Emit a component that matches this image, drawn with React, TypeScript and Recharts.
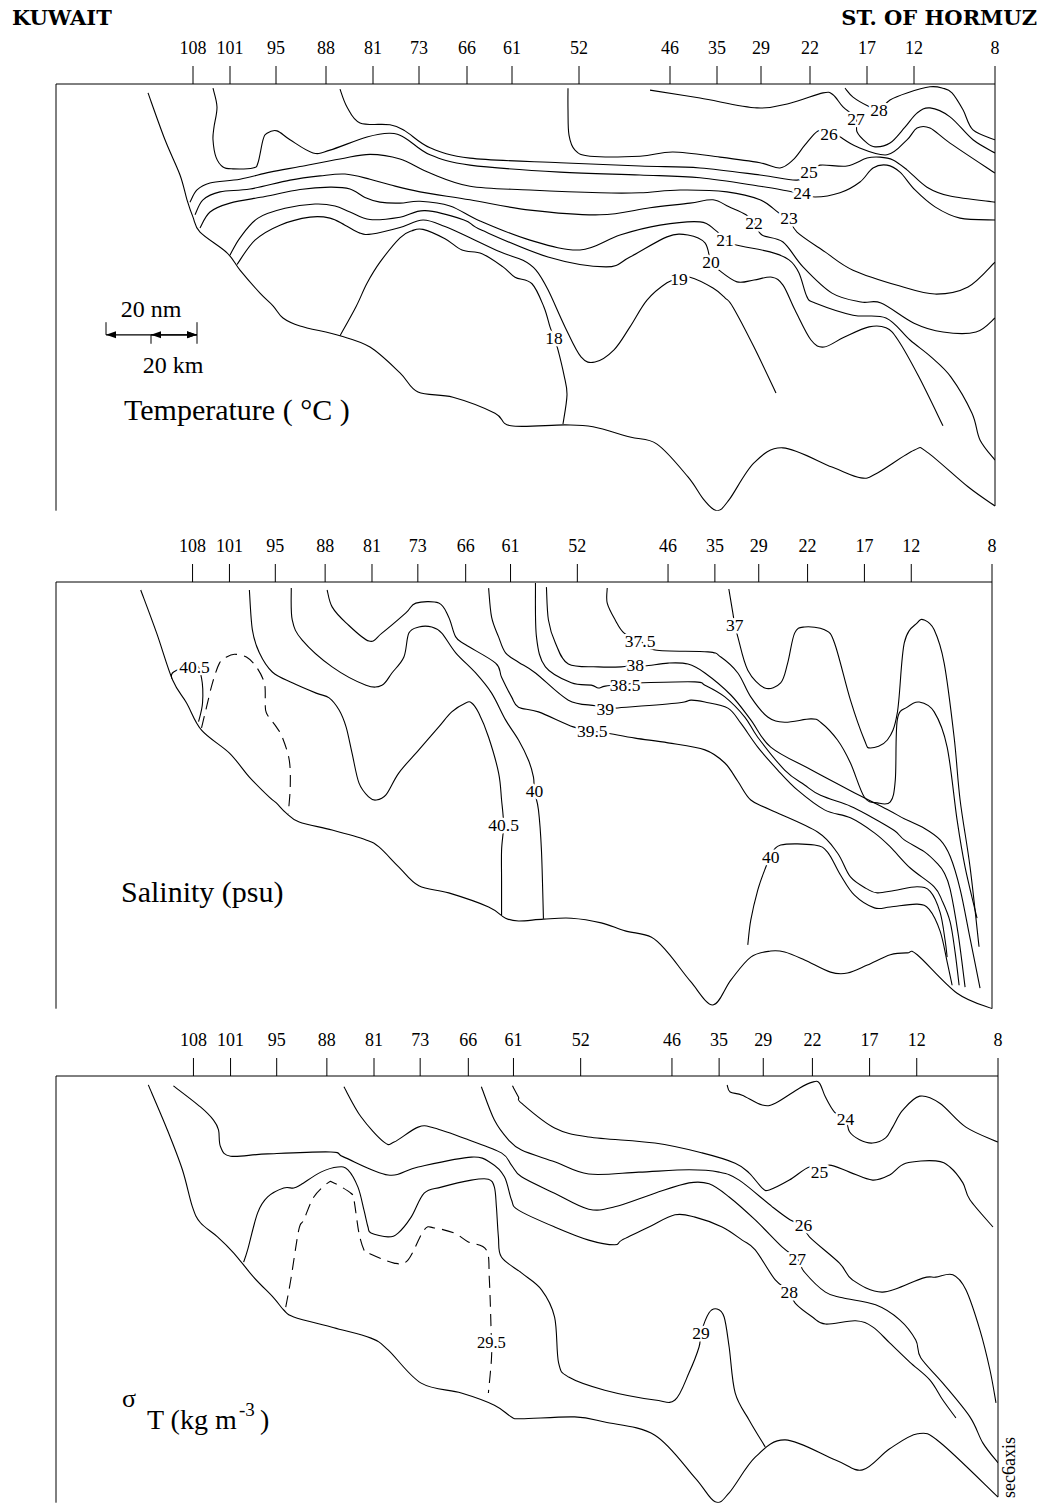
import { LineChart, Line, XAxis, YAxis, ReferenceLine, ReferenceDot } from 'recharts';

const INK = '#000';
const SERIF = '"Liberation Serif", "Times New Roman", serif';

// station numbers along the section and their distance from the Kuwait end (km)
const STATION_ID = ['108', '101', '95', '88', '81', '73', '66', '61', '52', '46', '35', '29', '22', '17', '12', '8'];
const STATION_KM = [137, 174, 220, 270, 317, 363, 411, 456, 523, 614, 661, 705, 754, 811, 858, 939];
const DEPTH_TICKS = [0, 10, 20, 30, 40, 50, 60, 70, 80, 90];

type Pt = [number, number]; // [distance km, depth m]
type Tag = [number, number, string];

// ---------- temperature section ----------
const TEMP_SEABED: Pt[] = [[92, 1.9], [109, 11.9], [124, 19.4], [131, 24.7], [137, 28.4], [144, 31.6], [171, 36.0], [184, 39.7], [204, 44.6], [217, 47.3], [227, 49.9], [244, 51.6], [284, 53.7], [314, 56.1], [344, 61.6], [362, 65.7], [397, 66.8], [439, 70.2], [455, 72.9], [509, 72.7], [537, 73.1], [574, 75.3], [601, 76.8], [632, 83.8], [648, 88.7], [661, 91], [673, 88.7], [698, 80.8], [727, 77.6], [776, 81.7], [805, 84.0], [821, 83.0], [858, 78.1], [871, 78.5], [912, 85.9], [939, 90.0]];
const TEMP_28: Pt[] = [[789, 0.9], [797, 2.8], [812, 4.7], [823, 5.5], [834, 3.4], [851, 1.9], [874, 0.6], [887, 0.9], [896, 1.9], [907, 5.5], [917, 9.8], [939, 11.9]];
const TEMP_27: Pt[] = [[594, 1.3], [644, 3.0], [701, 5.1], [734, 4.1], [767, 1.9], [777, 2.3], [787, 4.9], [800, 7.3], [801, 10.2], [810, 12.4], [819, 13.4], [834, 12.6], [849, 9.2], [861, 6.2], [874, 5.1], [894, 7.0], [917, 11.9], [939, 14.7]];
const TEMP_26: Pt[] = [[512, 0.9], [512, 5.5], [513, 10.9], [519, 14.1], [534, 15.4], [584, 15.4], [617, 14.5], [664, 15.6], [704, 16.8], [724, 17.9], [737, 16.2], [749, 13.0], [762, 10.0], [773, 10.5], [781, 10.9], [801, 13.4], [831, 15.1], [851, 11.9], [861, 9.4], [874, 9.4], [894, 12.6], [939, 19.0]];
const TEMP_25: Pt[] = [[284, 1.1], [291, 4.9], [304, 8.3], [334, 8.7], [349, 10.0], [374, 13.6], [414, 15.8], [504, 16.8], [584, 17.5], [644, 17.9], [704, 19.4], [741, 20.5], [753, 18.8], [764, 17.3], [791, 17.5], [811, 15.8], [824, 15.6], [837, 16.2], [851, 18.3], [871, 22.0], [894, 23.9], [939, 25.2]];
const TEMP_24: Pt[] = [[157, 0.9], [161, 4.9], [158, 9.2], [157, 11.9], [160, 15.6], [167, 17.7], [177, 18.1], [197, 17.9], [202, 16.8], [207, 11.9], [211, 10.5], [221, 10.0], [234, 11.9], [257, 14.7], [274, 14.1], [311, 11.3], [334, 10.5], [349, 11.5], [374, 15.1], [414, 17.3], [504, 18.8], [584, 19.4], [644, 20.0], [704, 21.8], [737, 23.0], [746, 23.2], [759, 24.1], [784, 23.2], [804, 20.9], [817, 17.9], [831, 17.3], [844, 18.8], [859, 22.6], [879, 26.2], [904, 28.6], [939, 29.0]];
const TEMP_23: Pt[] = [[134, 25.2], [141, 22.6], [154, 21.1], [184, 20.3], [214, 18.8], [244, 17.6], [284, 16.0], [314, 15.0], [344, 16.0], [374, 19.0], [414, 21.8], [474, 22.6], [544, 23.2], [584, 23.2], [624, 22.6], [671, 23.0], [704, 24.7], [723, 27.5], [733, 28.6], [741, 31.6], [769, 35.8], [797, 39.7], [844, 43.1], [879, 44.8], [912, 43.3], [939, 38.0]];
const TEMP_22: Pt[] = [[139, 27.9], [147, 24.7], [164, 23.0], [194, 22.4], [234, 20.5], [264, 19.6], [289, 19.2], [314, 20.3], [334, 21.5], [364, 23.0], [414, 24.7], [474, 26.9], [544, 27.9], [594, 26.4], [634, 25.4], [657, 24.7], [673, 26.2], [690, 27.9], [698, 29.6], [706, 32.2], [727, 33.7], [747, 39.0], [776, 44.6], [805, 46.5], [825, 46.7], [858, 51.0], [887, 52.9], [920, 52.9], [939, 49.9]];
const TEMP_21: Pt[] = [[144, 30.7], [154, 27.3], [174, 25.4], [209, 24.0], [244, 22.5], [274, 22.0], [294, 22.4], [309, 24.2], [324, 25.2], [344, 25.4], [364, 25.0], [394, 26.0], [424, 29.2], [474, 33.3], [524, 35.4], [564, 32.2], [604, 30.1], [644, 29.4], [659, 31.1], [669, 33.1], [679, 34.3], [714, 35.8], [733, 37.5], [743, 40.3], [751, 45.4], [759, 46.7], [797, 49.3], [830, 49.9], [854, 54.6], [875, 58.2], [895, 62.5], [916, 70.2], [924, 75.9], [939, 80.2]];
const TEMP_20: Pt[] = [[174, 36.5], [184, 32.8], [202, 28.6], [229, 26.5], [259, 25.6], [279, 26.0], [294, 27.3], [314, 28.9], [344, 28.4], [369, 27.0], [408, 29.0], [426, 31.2], [492, 36.9], [550, 39.0], [574, 36.9], [611, 32.6], [632, 32.2], [649, 33.9], [655, 38.0], [663, 39.7], [681, 42.2], [698, 41.8], [716, 41.2], [727, 42.9], [739, 48.2], [755, 54.6], [768, 56.1], [788, 54.0], [813, 51.8], [830, 52.0], [842, 54.6], [863, 62.5], [887, 72.9]];
const TEMP_19: Pt[] = [[181, 38.5], [199, 33.3], [224, 30.1], [254, 28.4], [274, 28.6], [289, 30.1], [304, 31.8], [316, 32.0], [344, 30.6], [367, 29.0], [389, 30.4], [414, 32.8], [444, 35.8], [467, 37.6], [480, 39.7], [492, 43.9], [509, 51.8], [525, 58.2], [539, 59.3], [558, 56.7], [574, 51.8], [591, 46.1], [611, 42.4], [623, 41.6], [634, 41.2], [657, 43.5], [669, 45.6], [677, 47.6], [698, 56.1], [720, 65.9]];
const TEMP_18: Pt[] = [[284, 53.7], [300, 47.5], [311, 42.5], [324, 38.0], [344, 32.8], [356, 31.3], [367, 31.0], [389, 33.0], [406, 35.4], [426, 36.2], [447, 39.0], [459, 41.2], [476, 42.6], [488, 47.6], [494, 51.8], [498, 54.0], [502, 56.7], [508, 62.1], [511, 66.3], [507, 72.5]];
const TEMP_TAGS: Tag[] = [[823, 5.5, '28'], [800, 7.3, '27'], [773, 10.5, '26'], [753, 18.8, '25'], [746, 23.2, '24'], [733, 28.6, '23'], [698, 29.6, '22'], [669, 33.1, '21'], [655, 38.0, '20'], [623, 41.6, '19'], [498, 54.0, '18']];

// ---------- salinity section ----------
const SAL_SEABED: Pt[] = [[85, 1.7], [101, 10.9], [117, 20.9], [131, 25.8], [146, 31.6], [174, 36.5], [194, 41.6], [214, 45.9], [221, 47.1], [231, 49.3], [244, 51.2], [277, 52.9], [311, 55.0], [324, 56.5], [344, 60.8], [364, 64.8], [394, 66.3], [434, 69.3], [451, 71.7], [464, 72.3], [489, 71.9], [517, 71.7], [547, 72.7], [571, 74.4], [597, 75.7], [614, 79.1], [637, 85.3], [659, 90.2], [677, 84.9], [697, 80.0], [717, 78.7], [731, 78.9], [751, 80.6], [777, 83.2], [794, 83.4], [814, 81.7], [837, 79.5], [854, 79.1], [864, 79.5], [904, 87.7], [939, 91]];
const SAL_405_LENS: Pt[] = [[146, 31.1], [151, 26.7], [157, 21.5], [164, 17.3], [171, 16.0], [179, 15.4], [191, 16.0], [201, 18.1], [209, 21.5], [210, 25.2], [211, 27.9], [221, 30.9], [227, 33.1], [234, 38.0], [235, 43.7], [233, 49.3]];
const SAL_405_SHELF: Pt[] = [[116, 20.6], [118, 19.2], [139, 17.5], [146, 20.5], [147, 25.8], [143, 29.8]];
const SAL_405: Pt[] = [[194, 1.7], [197, 10.2], [204, 15.1], [217, 19.2], [237, 21.5], [261, 23.7], [274, 24.7], [284, 27.3], [291, 30.9], [297, 36.5], [304, 42.9], [314, 45.9], [321, 46.5], [331, 45.4], [344, 40.7], [364, 35.8], [384, 30.9], [397, 27.7], [411, 25.8], [417, 25.8], [424, 27.9], [434, 33.1], [444, 40.7], [447, 46.5], [449, 51.8], [447, 57.2], [447, 63.6], [447, 71.0]];
const SAL_40: Pt[] = [[236, 1.3], [237, 8.1], [247, 12.4], [277, 18.1], [311, 22.0], [327, 22.0], [337, 19.4], [349, 16.0], [354, 10.9], [364, 9.6], [377, 9.6], [387, 10.9], [401, 15.1], [421, 19.4], [437, 23.7], [451, 29.4], [464, 33.7], [474, 38.0], [479, 41.6], [480, 44.6], [484, 48.6], [487, 57.2], [489, 71.8]];
const SAL_40_EAST: Pt[] = [[694, 77.4], [697, 72.1], [704, 65.7], [711, 61.4], [717, 58.6], [727, 56.1], [761, 56.1], [774, 57.6], [787, 62.5], [801, 66.8], [821, 69.5], [837, 69.3], [864, 68.7], [876, 69.8], [887, 74.5], [894, 81.0], [899, 86.0]];
const SAL_395: Pt[] = [[272, 1.7], [277, 5.3], [291, 8.7], [314, 12.6], [327, 10.9], [351, 6.6], [361, 4.5], [384, 4.5], [394, 7.5], [401, 11.7], [411, 13.4], [441, 17.3], [447, 20.3], [457, 24.5], [464, 26.7], [484, 27.7], [519, 30.9], [538, 31.8], [552, 32.2], [581, 33.3], [614, 34.3], [651, 35.8], [671, 38.6], [684, 42.5], [697, 46.5], [717, 48.6], [764, 53.3], [784, 57.8], [797, 62.9], [814, 65.5], [824, 66.3], [841, 65.8], [864, 65.0], [877, 66.0], [887, 70.5], [892, 76.5], [894, 80.0]];
const SAL_39: Pt[] = [[434, 1.3], [437, 7.5], [444, 11.7], [451, 15.1], [464, 17.1], [481, 19.4], [514, 25.2], [541, 26.4], [551, 27.1], [561, 26.9], [624, 25.8], [637, 25.2], [651, 25.6], [674, 26.9], [687, 30.1], [704, 35.2], [724, 40.1], [744, 44.4], [771, 48.6], [797, 50.3], [821, 53.5], [837, 56.5], [857, 61.0], [881, 65.0], [889, 68.0], [897, 72.5], [902, 79.0], [906, 86.0]];
const SAL_385: Pt[] = [[481, 0.2], [482, 11.7], [491, 18.1], [517, 21.5], [537, 22.0], [544, 22.6], [551, 22.2], [571, 21.8], [589, 21.5], [641, 21.3], [651, 22.0], [671, 24.5], [691, 28.8], [704, 33.1], [731, 40.1], [751, 43.3], [767, 45.5], [797, 47.8], [817, 50.0], [841, 53.0], [851, 55.0], [871, 57.5], [884, 60.0], [891, 62.0], [897, 65.5], [905, 75.0], [912, 86.4]];
const SAL_38: Pt[] = [[492, 1.1], [494, 8.1], [501, 13.0], [514, 17.5], [544, 18.1], [567, 18.1], [581, 17.7], [591, 17.9], [614, 17.3], [634, 17.5], [651, 19.4], [677, 24.1], [697, 29.4], [717, 35.2], [757, 40.0], [797, 44.5], [834, 48.5], [851, 50.5], [871, 52.5], [887, 55.0], [897, 58.5], [907, 65.5], [917, 76.0], [927, 86.6]];
const SAL_375: Pt[] = [[553, 1.3], [553, 4.5], [561, 8.1], [570, 10.9], [586, 12.6], [601, 14.5], [654, 14.9], [667, 16.0], [684, 19.4], [697, 24.5], [714, 28.8], [731, 29.9], [757, 29.2], [767, 29.9], [784, 33.7], [797, 38.6], [811, 45.9], [824, 47.1], [837, 46.9], [842, 42.2], [844, 29.4], [854, 26.7], [866, 25.6], [881, 27.7], [894, 35.2], [904, 50.8], [912, 60.8], [924, 71.7]];
const SAL_37: Pt[] = [[675, 1.5], [679, 6.6], [681, 9.2], [684, 11.7], [694, 18.8], [711, 22.6], [727, 21.5], [734, 17.3], [741, 10.9], [751, 9.6], [771, 10.2], [781, 13.0], [797, 25.2], [811, 33.7], [817, 35.4], [834, 33.7], [844, 27.9], [851, 13.0], [864, 8.7], [871, 8.1], [881, 10.2], [891, 17.3], [901, 33.1], [907, 46.5], [917, 60.8], [926, 77.8]];
const SAL_TAGS: Tag[] = [[139, 18.1, '40.5'], [586, 12.6, '37.5'], [681, 9.2, '37'], [581, 17.7, '38'], [571, 21.8, '38.5'], [551, 27.1, '39'], [538, 31.8, '39.5'], [480, 44.6, '40'], [449, 51.8, '40.5'], [717, 58.6, '40']];

// ---------- sigma-t section ----------
const DENS_SEABED: Pt[] = [[92, 1.9], [111, 11.5], [126, 20.0], [136, 27.9], [144, 31.3], [161, 34.3], [177, 37.7], [197, 42.9], [217, 47.3], [227, 49.9], [237, 51.4], [277, 53.7], [314, 55.9], [331, 58.4], [364, 65.5], [404, 67.6], [437, 70.2], [454, 72.7], [464, 73.1], [517, 72.7], [547, 73.8], [597, 76.6], [637, 85.7], [657, 90.8], [671, 88.9], [697, 81.3], [727, 77.6], [777, 81.9], [804, 84.0], [831, 79.5], [859, 76.3], [881, 78.1], [939, 89.8]];
const DENS_24: Pt[] = [[669, 1.9], [672, 3.4], [684, 4.1], [704, 6.2], [717, 5.8], [741, 2.6], [754, 1.3], [761, 1.5], [767, 4.5], [776, 7.7], [787, 9.2], [791, 11.9], [801, 13.6], [814, 14.3], [827, 13.2], [834, 10.9], [844, 7.3], [861, 4.3], [881, 5.8], [907, 10.9], [939, 14.1]];
const DENS_25: Pt[] = [[455, 2.1], [461, 4.5], [464, 5.8], [497, 11.1], [531, 13.0], [597, 14.3], [644, 16.4], [677, 18.6], [691, 20.7], [704, 23.9], [711, 24.3], [731, 22.2], [751, 19.4], [761, 20.5], [771, 19.0], [791, 20.5], [814, 22.2], [831, 21.1], [847, 18.6], [877, 18.1], [891, 19.4], [904, 22.8], [911, 26.4], [934, 32.2]];
const DENS_26: Pt[] = [[424, 2.3], [437, 9.4], [451, 13.6], [464, 15.8], [497, 18.3], [531, 20.9], [581, 20.5], [631, 20.0], [661, 20.5], [681, 22.2], [714, 27.9], [732, 30.7], [745, 31.8], [751, 34.3], [781, 39.9], [794, 43.5], [824, 46.1], [864, 43.1], [877, 42.9], [894, 42.4], [907, 45.6], [921, 54.2], [931, 62.7], [937, 69.7]];
const DENS_27: Pt[] = [[287, 2.3], [304, 8.7], [327, 14.1], [337, 14.1], [361, 10.9], [377, 11.1], [411, 13.6], [444, 16.4], [454, 19.0], [464, 21.5], [497, 25.0], [531, 28.4], [557, 27.9], [597, 25.0], [631, 22.8], [651, 23.0], [671, 25.8], [697, 30.7], [724, 36.5], [739, 39.0], [746, 41.8], [767, 46.1], [784, 47.3], [817, 48.8], [841, 52.0], [857, 56.3], [862, 60.1], [884, 65.5], [911, 72.7], [924, 78.3], [939, 82.5]];
const DENS_28: Pt[] = [[117, 2.1], [144, 6.6], [157, 9.4], [162, 11.5], [164, 15.1], [174, 17.1], [211, 16.6], [274, 16.2], [287, 17.3], [331, 21.1], [361, 19.4], [414, 17.3], [434, 18.6], [447, 21.5], [454, 26.4], [461, 28.6], [497, 32.2], [531, 35.0], [557, 36.0], [564, 35.0], [591, 32.2], [617, 29.6], [637, 30.1], [664, 32.2], [684, 35.0], [697, 37.1], [717, 43.5], [731, 45.9], [737, 48.5], [754, 51.4], [767, 52.9], [797, 52.2], [814, 53.5], [831, 56.9], [851, 61.0], [871, 64.8], [884, 69.1], [897, 72.9]];
const DENS_29: Pt[] = [[187, 39.7], [191, 37.1], [201, 29.2], [211, 25.8], [227, 23.9], [237, 23.9], [244, 23.2], [264, 20.5], [281, 19.4], [291, 20.0], [301, 23.7], [307, 28.6], [311, 32.2], [314, 33.5], [331, 34.3], [341, 33.5], [354, 30.1], [367, 25.0], [384, 23.7], [414, 22.2], [431, 22.0], [437, 23.7], [439, 27.9], [441, 34.3], [444, 38.6], [464, 42.0], [484, 45.6], [497, 51.4], [501, 61.2], [511, 64.2], [547, 67.0], [597, 69.1], [617, 69.1], [631, 63.3], [641, 57.8], [643, 54.8], [651, 50.5], [659, 49.7], [666, 51.4], [671, 57.8], [677, 67.6], [691, 73.4], [707, 79.1]];
const DENS_295: Pt[] = [[229, 49.3], [234, 43.5], [242, 32.8], [247, 30.7], [257, 25.8], [271, 22.8], [277, 22.8], [294, 25.0], [297, 26.4], [302, 33.5], [307, 37.1], [311, 37.7], [337, 39.9], [351, 39.2], [367, 32.8], [377, 32.4], [397, 33.5], [411, 35.4], [429, 37.1], [432, 43.5], [434, 56.7], [434, 60.6], [431, 67.6]];
const DENS_TAGS: Tag[] = [[787, 9.2, '24'], [761, 20.5, '25'], [745, 31.8, '26'], [739, 39.0, '27'], [731, 45.9, '28'], [643, 54.8, '29'], [434, 56.7, '29.5']];

// Catmull-Rom spline through every point, works for curves that turn back on themselves
function smooth(context: any) {
  let pts: number[][] = [];
  return {
    areaStart() {},
    areaEnd() {},
    lineStart() {
      pts = [];
    },
    point(x: number, y: number) {
      pts.push([x, y]);
    },
    lineEnd() {
      const n = pts.length;
      if (!n) return;
      context.moveTo(pts[0][0], pts[0][1]);
      for (let i = 0; i < n - 1; i++) {
        const p0 = pts[Math.max(i - 1, 0)];
        const p1 = pts[i];
        const p2 = pts[i + 1];
        const p3 = pts[Math.min(i + 2, n - 1)];
        context.bezierCurveTo(
          p1[0] + (p2[0] - p0[0]) / 6,
          p1[1] + (p2[1] - p0[1]) / 6,
          p2[0] - (p3[0] - p1[0]) / 6,
          p2[1] - (p3[1] - p1[1]) / 6,
          p2[0],
          p2[1],
        );
      }
    },
  };
}

const rows = (pts: Pt[]) => pts.map(([x, y]) => ({ x, y }));
const stationName = (v: number) => STATION_ID[STATION_KM.indexOf(v)] ?? '';

function TagText({ cx, cy, text, size }: any) {
  return (
    <text
      x={cx}
      y={cy}
      dy="0.36em"
      textAnchor="middle"
      fontSize={size}
      fontFamily={SERIF}
      fill={INK}
      stroke="#fff"
      strokeWidth={5}
      strokeLinejoin="round"
      paintOrder="stroke"
    >
      {text}
    </text>
  );
}

// double-headed arrow for the distance scale
function ScaleArrow(props: any) {
  const { x1, y1, x2, y2 } = props;
  const len = 10;
  const half = 3.5;
  return (
    <g>
      <line x1={x1} y1={y1} x2={x2} y2={y2} stroke={INK} strokeWidth={1.2} />
      <path d={`M${x1},${y1} l${len},${-half} l0,${half * 2} Z`} fill={INK} />
      <path d={`M${x2},${y2} l${-len},${-half} l0,${half * 2} Z`} fill={INK} />
    </g>
  );
}

type PanelProps = {
  top: number;
  right: number;
  seabed: Pt[];
  solid: Pt[][];
  dashed?: Pt[][];
  tags: Tag[];
  scaleBar?: boolean;
};

function Panel({ top, right, seabed, solid, dashed = [], tags, scaleBar }: PanelProps) {
  const bottomEnd = seabed[seabed.length - 1][1];
  const line = (pts: Pt[], key: string, dash?: string) => (
    <Line
      key={key}
      data={rows(pts)}
      dataKey="y"
      type={smooth as any}
      stroke={INK}
      strokeWidth={1.1}
      strokeDasharray={dash}
      dot={false}
      activeDot={false}
      isAnimationActive={false}
      legendType="none"
    />
  );
  return (
    <div style={{ position: 'absolute', left: 0, top }}>
      <LineChart width={1044} height={520} margin={{ top: 44, right, bottom: 9.3, left: 36 }}>
        <XAxis
          type="number"
          dataKey="x"
          orientation="top"
          domain={[0, 939]}
          ticks={STATION_KM}
          interval={0}
          tickFormatter={stationName}
          height={40}
          tickSize={18}
          tickMargin={12}
          axisLine={{ stroke: INK }}
          tickLine={{ stroke: INK }}
          tick={{ fill: INK, fontSize: 18, fontFamily: SERIF }}
          allowDataOverflow
        />
        <YAxis
          type="number"
          domain={[0, 91]}
          reversed
          ticks={DEPTH_TICKS}
          interval={0}
          width={20}
          tick={false}
          tickSize={16}
          tickLine={{ stroke: INK, strokeDasharray: '13 3' }}
          axisLine={{ stroke: INK }}
          allowDataOverflow
        />
        <ReferenceLine segment={[{ x: 939, y: 0 }, { x: 939, y: bottomEnd }]} stroke={INK} ifOverflow="visible" />
        {line(seabed, 'seabed')}
        {solid.map((pts, i) => line(pts, `s${i}`))}
        {dashed.map((pts, i) => line(pts, `d${i}`, '12 7'))}
        {scaleBar && (
          <ReferenceLine segment={[{ x: 50, y: 53.5 }, { x: 141, y: 53.5 }]} shape={ScaleArrow} ifOverflow="visible" />
        )}
        {scaleBar && (
          <ReferenceLine segment={[{ x: 95, y: 53.5 }, { x: 141, y: 53.5 }]} shape={ScaleArrow} ifOverflow="visible" />
        )}
        {scaleBar && <ReferenceLine segment={[{ x: 50, y: 50.8 }, { x: 50, y: 53.5 }]} stroke={INK} ifOverflow="visible" />}
        {scaleBar && <ReferenceLine segment={[{ x: 95, y: 53.5 }, { x: 95, y: 55.4 }]} stroke={INK} ifOverflow="visible" />}
        {scaleBar && <ReferenceLine segment={[{ x: 141, y: 50.8 }, { x: 141, y: 55.4 }]} stroke={INK} ifOverflow="visible" />}
        {tags.map(([x, y, text], i) => (
          <ReferenceDot
            key={`t${i}`}
            x={x}
            y={y}
            r={0}
            ifOverflow="visible"
            shape={(p: any) => <TagText cx={p.cx} cy={p.cy} text={text} size={text === '29.5' ? 16.5 : 17.5} />}
          />
        ))}
      </LineChart>
    </div>
  );
}

export default function App() {
  return (
    <div
      style={{
        position: 'absolute',
        left: 0,
        top: 0,
        width: 1044,
        height: 1503,
        overflow: 'hidden',
        background: '#fff',
      }}
    >
      <Panel
        top={0}
        right={49}
        seabed={TEMP_SEABED}
        solid={[TEMP_28, TEMP_27, TEMP_26, TEMP_25, TEMP_24, TEMP_23, TEMP_22, TEMP_21, TEMP_20, TEMP_19, TEMP_18]}
        tags={TEMP_TAGS}
        scaleBar
      />
      <Panel
        top={498}
        right={52}
        seabed={SAL_SEABED}
        solid={[SAL_405_SHELF, SAL_405, SAL_40, SAL_40_EAST, SAL_395, SAL_39, SAL_385, SAL_38, SAL_375, SAL_37]}
        dashed={[SAL_405_LENS]}
        tags={SAL_TAGS}
      />
      <Panel
        top={992}
        right={46}
        seabed={DENS_SEABED}
        solid={[DENS_24, DENS_25, DENS_26, DENS_27, DENS_28, DENS_29]}
        dashed={[DENS_295]}
        tags={DENS_TAGS}
      />
      <svg
        width={1044}
        height={1503}
        style={{ position: 'absolute', left: 0, top: 0, pointerEvents: 'none' }}
        fontFamily={SERIF}
        fill={INK}
      >
        <text x={12} y={25} fontSize={21} fontWeight="bold" fontFamily='"DejaVu Serif", serif'>
          KUWAIT
        </text>
        <text x={1037} y={25} fontSize={21} fontWeight="bold" fontFamily='"DejaVu Serif", serif' textAnchor="end">
          ST. OF HORMUZ
        </text>
        <text x={151} y={317} fontSize={24} textAnchor="middle">
          20 nm
        </text>
        <text x={173} y={373} fontSize={24} textAnchor="middle">
          20 km
        </text>
        <text x={124} y={420} fontSize={30}>
          Temperature ( °C )
        </text>
        <text x={121} y={902} fontSize={30}>
          Salinity (psu)
        </text>
        <text x={122} y={1407} fontSize={26}>
          σ
        </text>
        <text x={147} y={1429} fontSize={28}>
          T (kg m
        </text>
        <text x={239} y={1416} fontSize={19}>
          -3
        </text>
        <text x={260} y={1429} fontSize={28}>
          )
        </text>
        <text transform="translate(1015,1498) rotate(-90)" fontSize={18}>
          sec6axis
        </text>
      </svg>
    </div>
  );
}
